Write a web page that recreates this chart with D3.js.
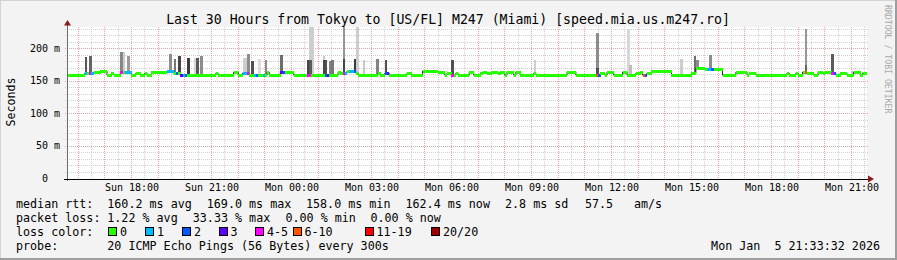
<!DOCTYPE html>
<html><head><meta charset="utf-8">
<script src="https://cdn.jsdelivr.net/npm/d3@7"></script>
<style>
html,body{margin:0;padding:0;background:#f3f3f3;}
svg{display:block;}
text{font-family:"DejaVu Sans Mono",monospace;white-space:pre;}
</style></head><body>
<svg id="c" width="897" height="260"></svg>
<script>
// ---------------- data ----------------
const title = "Last 30 Hours from Tokyo to [US/FL] M247 (Miami) [speed.mia.us.m247.ro]";
const yLabel = "Seconds";
const yTicks = [0, 50, 100, 150, 200];
const yTickLabels = ["0", "50 m", "100 m", "150 m", "200 m"];
const stepSeconds = 300;
const stepCount = 360;
const startTime = new Date(2026, 0, 4, 15, 36, 0);
// median rtt (ms) as runs: [first step, value]
const medianRuns = [[0,159],[8,162],[12,163.5],[15,165],[18,159],[20,162],[21,159],[24,163.5],[29,159],[31,162],[33,159],[35,162],[36,159],[38,163.5],[45,165],[48,162],[51,159],[67,162],[68,159],[75,163.5],[77,159],[79,162],[82,159],[90,163.5],[91,159],[96,163.5],[102,159],[122,163.5],[123,162],[126,165],[130,162],[131,159],[140,162],[141,159],[143,162],[145,159],[153,162],[155,159],[160,165],[167,163.5],[170,159],[171,162],[173,159],[175,162],[176,159],[181,163.5],[183,159],[186,162],[187,163.5],[189,162],[191,163.5],[194,162],[195,163.5],[197,159],[198,163.5],[201,159],[202,163.5],[204,159],[210,162],[211,159],[225,163.5],[229,159],[240,162],[242,159],[243,163.5],[246,159],[250,163.5],[252,159],[256,162],[258,163.5],[259,159],[261,162],[263,165],[272,159],[281,162],[283,169],[287,167.5],[291,168],[295,159],[301,163.5],[306,159],[307,162],[310,159],[324,162],[325,159],[328,162],[329,159],[331,163.5],[333,162],[336,159],[338,163.5],[340,162],[341,163.5],[344,162],[346,159],[348,162],[351,159],[354,163.5],[357,159],[358,162]];
// lost pings per step (steps not listed lost 0 of 20)
const lossSteps = [[8,1],[10,4],[11,1],[24,4],[26,1],[27,1],[28,1],[45,1],[46,1],[47,1],[49,2],[51,3],[52,1],[53,2],[79,1],[80,1],[81,4],[84,1],[85,2],[88,1],[96,3],[97,2],[108,4],[109,4],[116,2],[117,3],[124,4],[125,1],[127,1],[128,1],[129,2],[143,2],[144,3],[173,4],[238,6],[239,2],[259,6],[260,2],[288,1],[289,1],[290,2],[332,6],[344,4],[345,2]];
// smoke: [step, top ping (ms), grey level]
const smoke = [[8,187,85],[10,189,100],[24,194,135],[25,195,205],[27,189,155],[46,191,140],[48,184,120],[50,189,70],[54,185,60],[57,186,215],[58,185,90],[60,189,140],[79,186,205],[80,186,205],[81,191,140],[83,181,80],[86,184,220],[89,182,140],[96,190,110],[108,183,70],[109,233,205],[110,233,205],[109,183,90],[115,189,200],[115,183,70],[116,183,80],[118,181,130],[119,183,120],[124,233,150],[124,184,70],[129,184,60],[130,233,205],[133,183,200],[139,184,130],[143,183,80],[173,183,80],[210,183,205],[238,224,140],[238,170,80],[252,230,215],[253,174,190],[276,184,205],[282,189,110],[283,183,140],[289,190,140],[332,230,150],[332,175,100],[344,192,90],[353,166,200]];
const lossLevels = [0, 1, 2, 3, 5, 10, 19, 20];
const lossLabels = ["0", "1", "2", "3", "4-5", "6-10", "11-19", "20/20"];
const lossColors = ["#26ff00", "#00b8ff", "#0059ff", "#5e00ff", "#ff00ff", "#ff5500", "#ff0000", "#a00000"];
const medianStats = ["160.2 ms avg", "169.0 ms max", "158.0 ms min", "162.4 ms now", "2.8 ms sd", "57.5", "am/s"];
const lossStats = ["1.22 % avg", "33.33 % max", "0.00 % min", "0.00 % now"];
const probeText = "20 ICMP Echo Pings (56 Bytes) every 300s";
const dateText = "Mon Jan  5 21:33:32 2026";

// ---------------- drawing ----------------
const svg = d3.select("#c");
const W = 897, H = 260;
const X0 = 67, X1 = 867, Y0 = 178.5, YT = 27;
const endTime = new Date(+startTime + stepCount * stepSeconds * 1000);
const x = d3.scaleTime().domain([startTime, endTime]).range([X0, X1]);
const y = d3.scaleLinear().domain([0, 233]).range([Y0, YT]);
const tStep = k => new Date(+startTime + k * stepSeconds * 1000);

// background & frame
svg.append("rect").attr("width", W).attr("height", H).attr("fill", "#f3f3f3");
svg.append("rect").attr("x", 0).attr("y", 0).attr("width", W).attr("height", 1).attr("fill", "#d4d4d4");
svg.append("rect").attr("x", 0).attr("y", 0).attr("width", 1).attr("height", H).attr("fill", "#d4d4d4");
svg.append("rect").attr("x", 0).attr("y", H - 2).attr("width", W).attr("height", 2).attr("fill", "#9e9e9e");
svg.append("rect").attr("x", W - 2).attr("y", 0).attr("width", 2).attr("height", H).attr("fill", "#9e9e9e");
svg.append("rect").attr("x", X0).attr("y", YT).attr("width", X1 - X0).attr("height", Y0 - YT).attr("fill", "#ffffff");

// grid
const g = svg.append("g").attr("shape-rendering", "crispEdges");
const minorY = d3.range(10, 233, 10).filter(v => v % 50 !== 0);
const majorY = d3.range(50, 233, 50);
g.selectAll(".gy").data(minorY).join("line")
  .attr("x1", X0 - 2).attr("x2", X1 + 2).attr("y1", d => Math.round(y(d)) + 0.5).attr("y2", d => Math.round(y(d)) + 0.5)
  .attr("stroke", "#cfcfcf").attr("stroke-dasharray", "1,1");
const minorX = d3.timeMinute.every(30).range(startTime, endTime).filter(d => d.getMinutes() === 30);
const majorX = d3.timeHour.every(1).range(startTime, endTime);
g.selectAll(".gx").data(minorX).join("line")
  .attr("y1", YT).attr("y2", Y0 + 2).attr("x1", d => Math.round(x(d)) + 0.5).attr("x2", d => Math.round(x(d)) + 0.5)
  .attr("stroke", "#cfcfcf").attr("stroke-dasharray", "1,1");
g.selectAll(".my").data(majorY).join("line")
  .attr("x1", X0 - 2).attr("x2", X1 + 2).attr("y1", d => Math.round(y(d)) + 0.5).attr("y2", d => Math.round(y(d)) + 0.5)
  .attr("stroke", "#f2a0a0").attr("stroke-dasharray", "1,1");
g.selectAll(".mx").data(majorX).join("line")
  .attr("y1", YT).attr("y2", Y0 + 2).attr("x1", d => Math.round(x(d)) + 0.5).attr("x2", d => Math.round(x(d)) + 0.5)
  .attr("stroke", "#f2a0a0").attr("stroke-dasharray", "1,1");

// median per step
const median = d3.range(stepCount).map(k => {
  let v = medianRuns[0][1];
  for (const r of medianRuns) { if (r[0] <= k) v = r[1]; }
  return v;
});
const lossMap = new Map(lossSteps);
const lossColor = n => lossColors[lossLevels.findIndex(l => n <= l)];

// smoke
svg.append("g").attr("shape-rendering", "crispEdges").selectAll("rect").data(smoke).join("rect")
  .attr("x", d => x(tStep(d[0]))).attr("width", d => x(tStep(d[0] + 1)) - x(tStep(d[0])) + 0.4)
  .attr("y", d => y(d[1])).attr("height", d => Math.max(0, y(median[d[0]]) - y(d[1])))
  .attr("fill", d => d3.rgb(d[2], d[2], d[2]));

// median line
const pts = median.map((v, k) => [tStep(k), v]);
pts.push([endTime, median[stepCount - 1]]);
svg.append("path").datum(pts)
  .attr("d", d3.line().x(d => x(d[0])).y(d => y(d[1])).curve(d3.curveStepAfter))
  .attr("fill", "none").attr("stroke", "#202020").attr("stroke-width", 1);

// loss colored band
svg.append("g").attr("shape-rendering", "crispEdges").selectAll("rect").data(median.map((v, k) => [k, v])).join("rect")
  .attr("x", d => x(tStep(d[0]))).attr("width", d => x(tStep(d[0] + 1)) - x(tStep(d[0])) + 0.2)
  .attr("y", d => y(d[1]) - 1.5).attr("height", 3)
  .attr("fill", d => lossColor(lossMap.get(d[0]) || 0));

// axes
svg.append("line").attr("x1", X0 + 0.5).attr("x2", X0 + 0.5).attr("y1", Y0 + 2).attr("y2", 24)
  .attr("stroke", "#6a6a6a").attr("shape-rendering", "crispEdges");
svg.append("line").attr("x1", X0 - 3).attr("x2", X1 + 3).attr("y1", Y0 + 0.5).attr("y2", Y0 + 0.5)
  .attr("stroke", "#000").attr("shape-rendering", "crispEdges");
svg.append("path").attr("d", `M${X0 - 3},25.5 L${X0 + 0.5},20 L${X0 + 4},25.5 Z`).attr("fill", "#8b1a1a");
svg.append("path").attr("d", `M${X1 + 1},${Y0 - 3} L${X1 + 7},${Y0 + 0.5} L${X1 + 1},${Y0 + 4} Z`).attr("fill", "#8b1a1a");

// y tick labels
svg.append("g").selectAll("text").data(yTicks).join("text")
  .attr("x", (d, i) => i === 0 ? 48 : 60).attr("y", d => y(d) + 3.5)
  .attr("text-anchor", "end").attr("font-size", "10px").attr("fill", "#000")
  .text((d, i) => yTickLabels[i]);

// x tick labels
const labelTimes = d3.timeHour.every(3).range(startTime, endTime);
const fmt = d3.timeFormat("%a %H:%M");
svg.append("g").selectAll("text").data(labelTimes).join("text")
  .attr("x", d => x(d) + 1).attr("y", 191)
  .attr("text-anchor", "middle").attr("font-size", "10px").attr("fill", "#000")
  .text(d => fmt(d));

// title
svg.append("text").attr("x", 448).attr("y", 24).attr("text-anchor", "middle")
  .attr("font-size", "13.2px").attr("fill", "#000").text(title);
// y label
svg.append("text").attr("transform", "translate(15,102) rotate(-90)").attr("text-anchor", "middle")
  .attr("font-size", "11.6px").attr("fill", "#000").text(yLabel);
// watermark
svg.append("text").attr("transform", "translate(885,5) rotate(90)")
  .attr("font-size", "8.2px").attr("fill", "#a8a8a8").text("RRDTOOL / TOBI OETIKER");

// legend
const fs = "11.7px";
const leg = svg.append("g").attr("font-size", fs).attr("fill", "#000");
const row = (label, yy) => leg.append("text").attr("x", 16).attr("y", yy).text(label);
row("median rtt:", 208);
row("packet loss:", 222);
row("loss color:", 236);
row("probe:", 250);
const mX = [107.3, 206.8, 306, 405.5, 505, 585, 634];
medianStats.forEach((s, i) => leg.append("text").attr("x", mX[i]).attr("y", 208).text(s));
const lX = [107.3, 192.8, 285.5, 370.5];
lossStats.forEach((s, i) => leg.append("text").attr("x", lX[i]).attr("y", 222).text(s));
const bX = [108.5, 145.5, 182.5, 219, 255.5, 293, 365, 431.5];
lossLabels.forEach((s, i) => {
  leg.append("rect").attr("x", bX[i]).attr("y", 227.5).attr("width", 8).attr("height", 8)
    .attr("fill", lossColors[i]).attr("stroke", "#000").attr("stroke-width", 1).attr("shape-rendering", "crispEdges");
  leg.append("text").attr("x", bX[i] + 11.5).attr("y", 236).text(s);
});
leg.append("text").attr("x", 107.3).attr("y", 250).text(probeText);
leg.append("text").attr("x", 880).attr("y", 250).attr("text-anchor", "end").text(dateText);
</script>
</body></html>
